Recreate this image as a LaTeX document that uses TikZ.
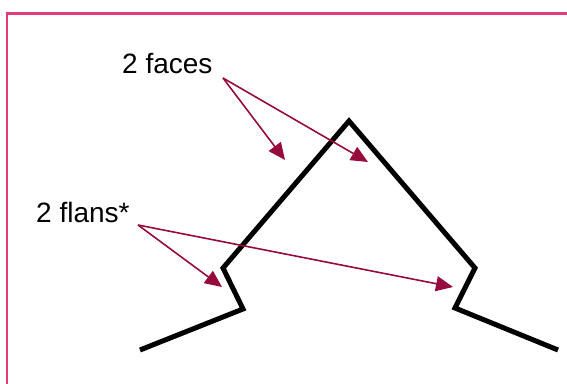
\documentclass[tikz,border=0pt]{standalone}
\usepackage{fontspec}
\setmainfont{Liberation Sans}
\usetikzlibrary{arrows.meta}
\definecolor{frame}{RGB}{225,60,120}
\definecolor{arr}{RGB}{150,10,60}
\begin{document}
\begin{tikzpicture}[x=1pt,y=-1pt,
  lbl/.style={font=\fontsize{28}{31}\selectfont, inner sep=0pt, anchor=west},
  pointer/.style={draw=arr, line width=1.6pt, -{Triangle[length=17pt,width=15pt]}},
  profile/.style={line width=5pt, line join=miter}]
\useasboundingbox (0,0) rectangle (567,383);
\draw[frame, line width=2.2pt] (7,400) -- (7,13.5) -- (580,13.5);
\node[lbl] (faces) at (122,64) {2 faces};
\node[lbl] (flans) at (36,212) {2 flans*};
\draw[profile] (140,350) -- (243,309) -- (223,268) -- (349,121) -- (475,268) -- (455,308) -- (558,350);
\coordinate (fs) at (223,78);
\coordinate (f1) at (285,160);
\coordinate (f2) at (368,162);
\coordinate (ls) at (138,225);
\coordinate (l1) at (222,287);
\coordinate (l2) at (453,287);
\draw[pointer] (fs) -- (f1);
\draw[pointer] (fs) -- (f2);
\draw[pointer] (ls) -- (l1);
\draw[pointer] (ls) -- (l2);
\end{tikzpicture}
\end{document}
